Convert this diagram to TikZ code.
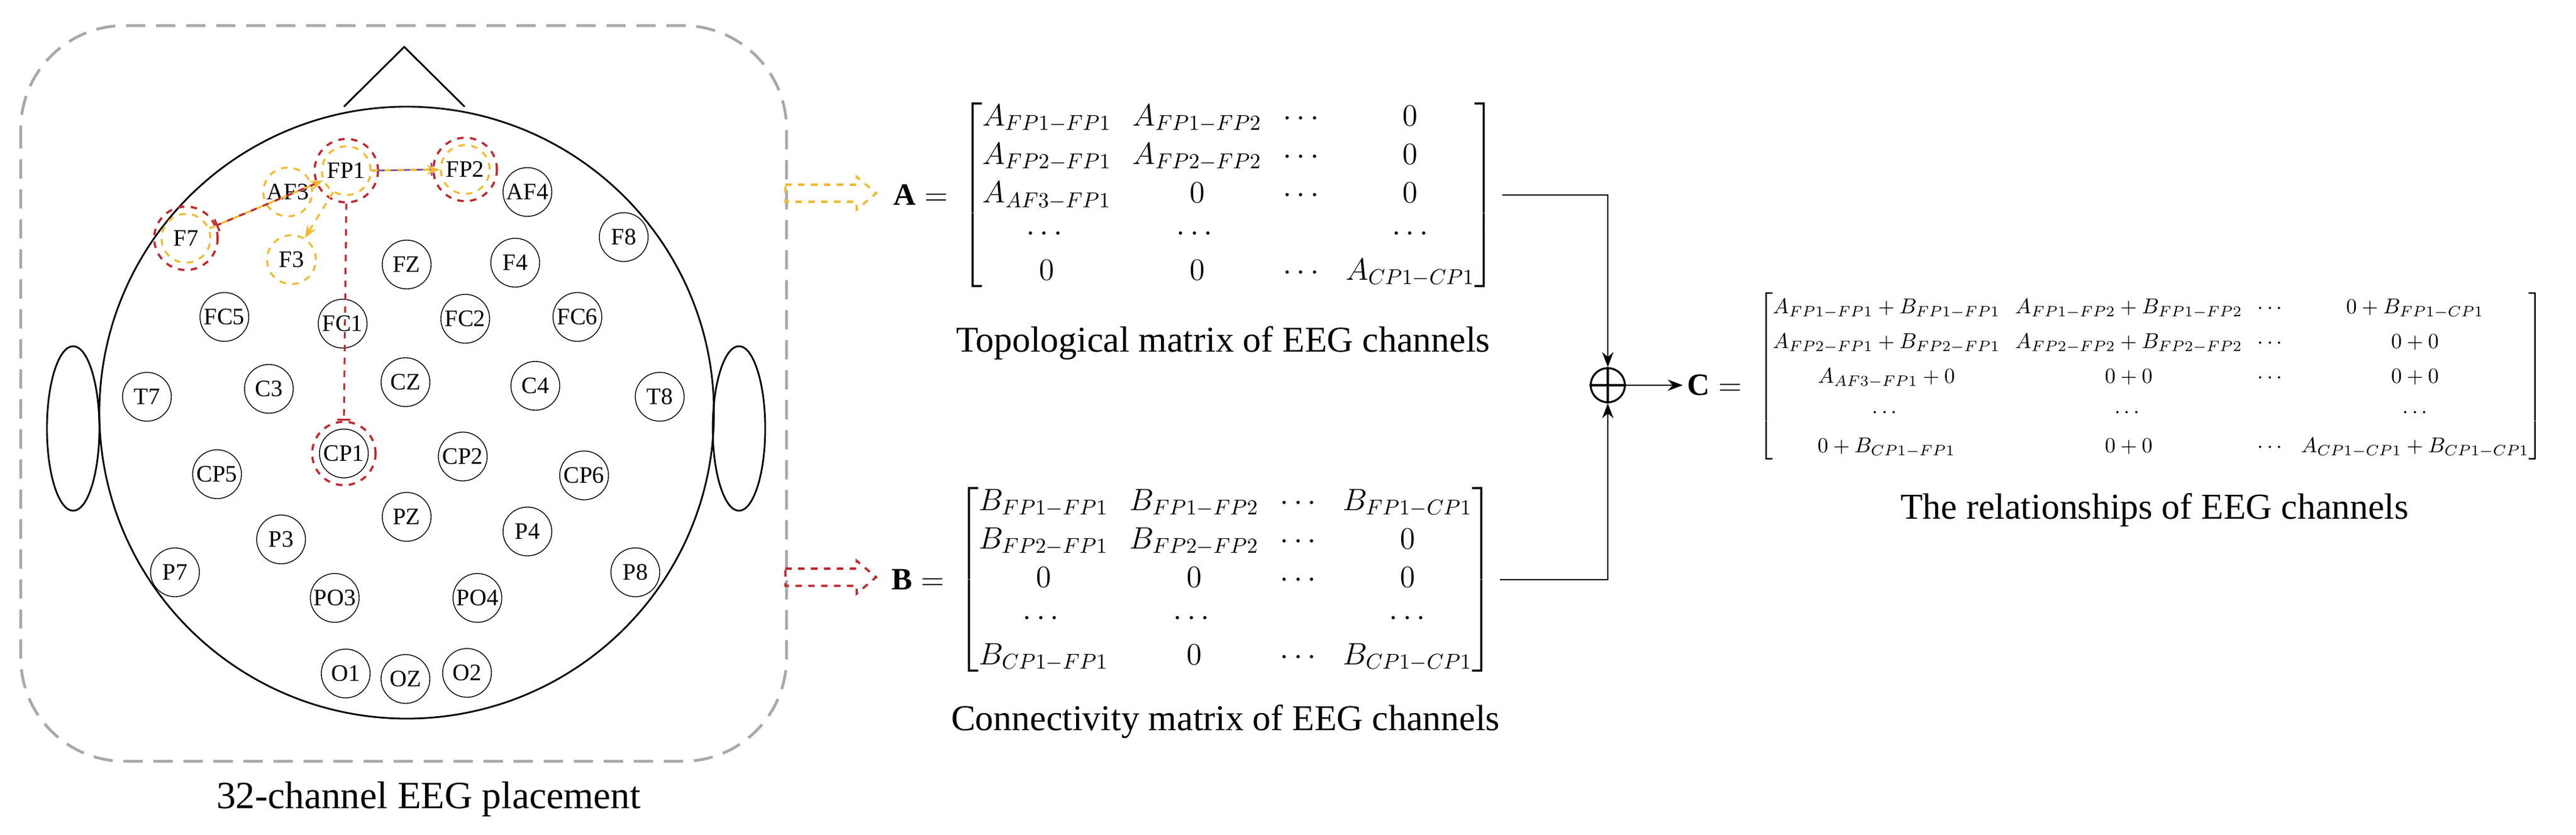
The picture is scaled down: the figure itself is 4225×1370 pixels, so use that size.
\documentclass[tikz,border=0pt]{standalone}
\usepackage{amsmath}
\usepackage{fontspec}
\setmainfont{Liberation Serif}
\usetikzlibrary{arrows.meta}
\definecolor{ylw}{HTML}{F2B92C}
\definecolor{rd}{HTML}{C0282D}
\definecolor{gr}{HTML}{A8A8A8}
\definecolor{pur}{HTML}{7B4F9E}
\begin{document}
\begin{tikzpicture}[x=0.01cm,y=-0.01cm,
  el/.style={circle,draw,minimum size=0.8cm,inner sep=0pt,font=\fontsize{11}{13}\selectfont},
  yel/.style={el,draw=ylw,dashed,line width=0.9pt},
  redring/.style={circle,draw=rd,dashed,line width=1pt,minimum size=1.04cm,inner sep=0pt},
  captxt/.style={font=\fontsize{17}{20}\selectfont},
  mat/.style={font=\fontsize{14.5}{18}\selectfont,inner sep=3pt},
  ylink/.style={ylw,dashed,line width=0.9pt,-{Stealth[length=6pt]}},
  rlink/.style={rd,dashed,line width=0.9pt,-{Bar[width=6pt]}},
  conn/.style={line width=0.8pt}]
\useasboundingbox (0,0) rectangle (4225,1370);
% frame
\draw[gr,dashed,line width=1.3pt,rounded corners=1.7cm,dash pattern=on 9pt off 5pt] (34,42) rectangle (1290,1249);
% head
\draw[line width=0.8pt] (667,677) ellipse [x radius=504,y radius=502];
\draw[line width=0.8pt] (564,175) -- (663,77) -- (762,175);
\draw[line width=0.8pt] (120,703) ellipse [x radius=43,y radius=135];
\draw[line width=0.8pt] (1212,703) ellipse [x radius=43,y radius=135];
% electrodes
\node[yel] (FP1) at (568,280) {FP1};
\node[yel] (FP2) at (763,278) {FP2};
\node[yel] (AF3) at (472,315) {AF3};
\node[el] (AF4) at (865,315) {AF4};
\node[yel] (F7) at (305,391) {F7};
\node[yel] (F3) at (478,426) {F3};
\node[el] (FZ) at (667,434) {FZ};
\node[el] (F4) at (845,431) {F4};
\node[el] (F8) at (1023,389) {F8};
\node[el] (FC5) at (368,520) {FC5};
\node[el] (FC1) at (562,531) {FC1};
\node[el] (FC2) at (763,523) {FC2};
\node[el] (FC6) at (947,520) {FC6};
\node[el] (T7) at (241,651) {T7};
\node[el] (C3) at (441,638) {C3};
\node[el] (CZ) at (665,627) {CZ};
\node[el] (C4) at (878,633) {C4};
\node[el] (T8) at (1082,651) {T8};
\node[el] (CP1) at (564,744) {CP1};
\node[el] (CP2) at (759,749) {CP2};
\node[el] (CP5) at (356,778) {CP5};
\node[el] (CP6) at (958,780) {CP6};
\node[el] (PZ) at (667,848) {PZ};
\node[el] (P3) at (461,885) {P3};
\node[el] (P4) at (865,872) {P4};
\node[el] (P7) at (287,939) {P7};
\node[el] (P8) at (1042,939) {P8};
\node[el] (PO3) at (549,981) {PO3};
\node[el] (PO4) at (783,981) {PO4};
\node[el] (O1) at (567,1105) {O1};
\node[el] (OZ) at (665,1114) {OZ};
\node[el] (O2) at (766,1104) {O2};
\node[redring] (rFP1) at (FP1) {};
\node[redring] (rFP2) at (FP2) {};
\node[redring] (rF7) at (F7) {};
\node[redring] (rCP1) at (CP1) {};
% links
\draw[rlink] (rFP1) -- (rF7);
\draw[rlink] (rFP1.south) -- (rCP1.north);
\draw[pur,line width=0.8pt,-{Bar[width=6pt]}] (FP1.east) -- (rFP2.west);
\draw[ylink] (FP1) -- (FP2);
\draw[ylink] (F7) -- (FP1);
\draw[ylink] (FP1) -- (F3);
\node[font=\fontsize{18}{21}\selectfont] (cap1) at (703,1311) {32-channel EEG placement};
% hollow arrows
\draw[ylw,dashed,line width=1pt] (1288,303) -- (1405,303) -- (1405,290) -- (1437,317) -- (1405,344) -- (1405,331) -- (1288,331) -- cycle;
\draw[rd,dashed,line width=1pt] (1288,933) -- (1405,933) -- (1405,920) -- (1437,947) -- (1405,974) -- (1405,961) -- (1288,961) -- cycle;
% matrices
\node[mat] (Am) at (2015,320) {$\begin{bmatrix}
A_{FP1-FP1} & A_{FP1-FP2} & \cdots & 0\\
A_{FP2-FP1} & A_{FP2-FP2} & \cdots & 0\\
A_{AF3-FP1} & 0 & \cdots & 0\\
\cdots & \cdots & & \cdots\\
0 & 0 & \cdots & A_{CP1-CP1}
\end{bmatrix}$};
\node[mat,anchor=east] (Aeq) at (Am.west) {$\mathbf{A}=$};
\node[captxt] (capA) at (2006,563) {Topological matrix of EEG channels};
\node[mat] (Bm) at (2010,951) {$\begin{bmatrix}
B_{FP1-FP1} & B_{FP1-FP2} & \cdots & B_{FP1-CP1}\\
B_{FP2-FP1} & B_{FP2-FP2} & \cdots & 0\\
0 & 0 & \cdots & 0\\
\cdots & \cdots & & \cdots\\
B_{CP1-FP1} & 0 & \cdots & B_{CP1-CP1}
\end{bmatrix}$};
\node[mat,anchor=east] (Beq) at (Bm.west) {$\mathbf{B}=$};
\node[captxt] (capB) at (2010,1184) {Connectivity matrix of EEG channels};
% oplus
\node[circle,draw,line width=0.9pt,minimum size=0.56cm,inner sep=0pt] (op) at (2637,632) {};
\draw[line width=0.9pt] (op.north) -- (op.south) (op.west) -- (op.east);
\draw[conn,-{Stealth[length=7pt]}] (Am.east) -| (op.north);
\draw[conn,-{Stealth[length=7pt]}] (Bm.east) -| (op.south);
\node[mat,anchor=west,inner sep=2pt] (Ceq) at (2760,632) {$\mathbf{C}=$};
\draw[conn,-{Stealth[length=7pt]}] (op.east) -- (Ceq.west);
\node[font=\fontsize{10}{12}\selectfont,inner sep=1pt,anchor=west] (Cm) at (2880,617) {\renewcommand{\arraystretch}{1.35}\setlength{\arraycolsep}{3.5pt}$\begin{bmatrix}
A_{FP1-FP1}+B_{FP1-FP1} & A_{FP1-FP2}+B_{FP1-FP2} & \cdots & 0+B_{FP1-CP1}\\
A_{FP2-FP1}+B_{FP2-FP1} & A_{FP2-FP2}+B_{FP2-FP2} & \cdots & 0+0\\
A_{AF3-FP1}+0 & 0+0 & \cdots & 0+0\\
\cdots & \cdots & & \cdots\\
0+B_{CP1-FP1} & 0+0 & \cdots & A_{CP1-CP1}+B_{CP1-CP1}
\end{bmatrix}$};
\node[captxt] (capC) at (3534,837) {The relationships of EEG channels};
\end{tikzpicture}
\end{document}
